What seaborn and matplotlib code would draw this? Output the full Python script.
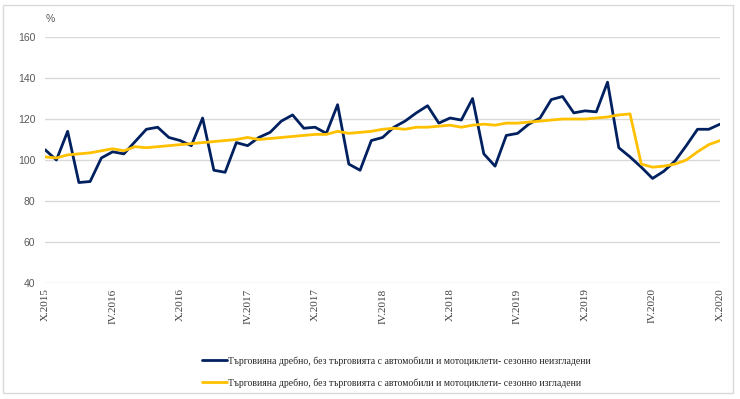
import matplotlib
matplotlib.use("Agg")
import matplotlib.pyplot as plt
import seaborn as sns
import numpy as np
from matplotlib.patches import Rectangle

# Monthly retail trade index, X.2015 - X.2020 (61 months)
not_adjusted = [105, 100, 114, 89, 89.5, 101, 104, 103, 109, 115, 116, 111,
                109.5, 107, 120.5, 95, 94, 108.5, 107, 111, 113.5, 119, 122, 115.5,
                116, 113, 127, 98, 95, 109.5, 111, 116, 119, 123, 126.5, 118,
                120.5, 119.5, 130, 103, 97, 112, 113, 117.5, 120.5, 129.5, 131, 123,
                124, 123.5, 138, 106, 101.5, 96.5, 91, 94.5, 99.5, 107, 115, 115,
                117.5]
adjusted = [101.5, 101, 102.5, 103, 103.5, 104.5, 105.5, 104.5, 106.5, 106, 106.5, 107,
            107.5, 108, 108.5, 109, 109.5, 110, 111, 110, 110.5, 111, 111.5, 112,
            112.5, 112.5, 114, 113, 113.5, 114, 115, 115.5, 115, 116, 116, 116.5,
            117, 116, 117, 117.5, 117, 118, 118, 118.5, 119, 119.5, 120, 120,
            120, 120.5, 121, 122, 122.5, 98, 96.5, 97, 98, 100, 104, 107.5,
            109.5]
tick_labels = ["X.2015", "IV.2016", "X.2016", "IV.2017", "X.2017", "IV.2018",
               "X.2018", "IV.2019", "X.2019", "IV.2020", "X.2020"]

label_na = "Търговияна дребно, без търговията с автомобили и мотоциклети- сезонно неизгладени"
label_a = "Търговияна дребно, без търговията с автомобили и мотоциклети- сезонно изгладени"

sns.set_style("white")
plt.rcParams["font.family"] = ["Liberation Serif", "DejaVu Serif"]

months = np.arange(len(not_adjusted))

fig = plt.figure(figsize=(7.4, 3.99), dpi=100)
ax = fig.add_axes([0.061, 0.291, 0.912, 0.616])

sns.lineplot(x=months, y=not_adjusted, color="#002060", linewidth=2.0, label=label_na, ax=ax)
sns.lineplot(x=months, y=adjusted, color="#FFC000", linewidth=2.0, label=label_a, ax=ax)

ax.set_xlim(0, len(months) - 1)
ax.set_ylim(40, 160)
ax.set_yticks(range(40, 161, 20))
ax.set_xticks(months[::6])
ax.set_xticklabels(tick_labels, rotation=90, fontsize=8, color="#404040")
for lbl in ax.get_yticklabels():
    lbl.set_fontfamily("Liberation Sans")
    lbl.set_fontsize(7.5)
    lbl.set_color("#595959")
ax.tick_params(axis="x", length=0, pad=4)
ax.tick_params(axis="y", length=0, pad=7)
ax.grid(axis="y", color="#d9d9d9", linewidth=1)
ax.set_axisbelow(True)
for s in ax.spines.values():
    s.set_visible(False)

fig.text(0.062, 0.945, "%", fontsize=7.5, color="#595959", family="Liberation Sans")

ax.get_legend().remove()
handles, labels = ax.get_legend_handles_labels()
fig.legend(handles, labels, loc="upper left", bbox_to_anchor=(0.268, 0.117),
           frameon=False, fontsize=7, handlelength=2.6, handletextpad=0.1,
           labelspacing=1.3, borderaxespad=0)

fig.patches.append(Rectangle((0.004, 0.015), 0.986, 0.972, transform=fig.transFigure,
                             fill=False, edgecolor="#d9d9d9", linewidth=1))

fig.savefig("out.png", dpi=100)
